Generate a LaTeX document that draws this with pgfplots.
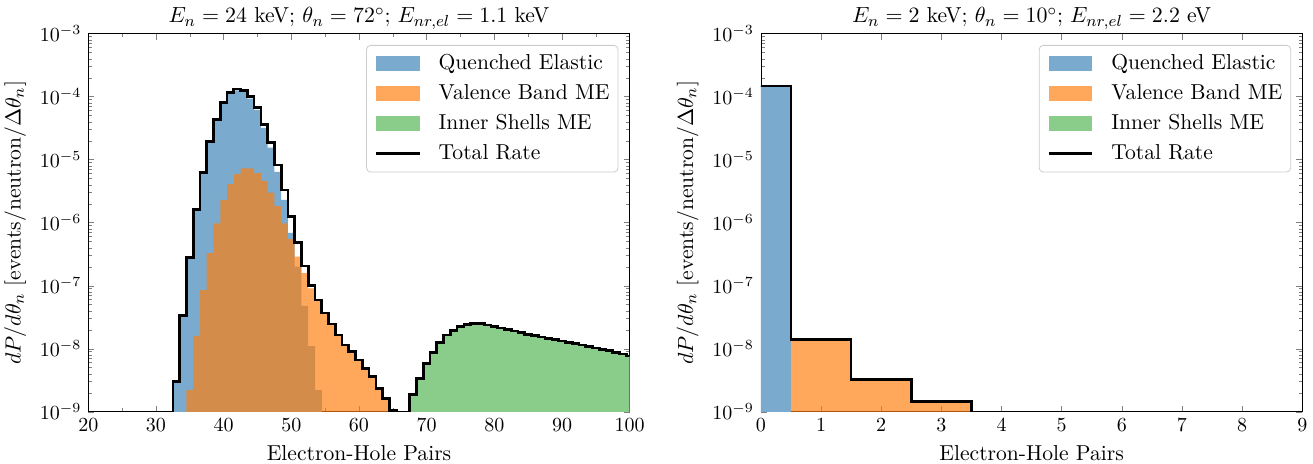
\documentclass[border=0pt]{standalone}
\usepackage{pgfplots}
\pgfplotsset{compat=1.18}

\definecolor{cblue}{RGB}{122,170,205}
\definecolor{corange}{RGB}{255,127,14}
\definecolor{cgreen}{RGB}{138,204,138}
\newcommand\lblfont{\fontsize{10.8}{13}\selectfont}

\pgfplotsset{
  /pgfplots/box legend/.style={/pgfplots/legend image code/.code={%
    \fill[##1, sharp corners] (0pt,-3.6pt) rectangle (21.7pt,3.6pt);}},
  /pgfplots/bar line legend/.style={/pgfplots/legend image code/.code={%
    \draw[##1, sharp corners] (0pt,0pt) -- (21.7pt,0pt);}},
}

\begin{document}
\begin{tikzpicture}
\begin{axis}[
  width=270.7pt, height=189pt, scale only axis,
  ymode=log, ymin=1e-9, ymax=1e-3,
  major tick length=3pt, minor tick length=1.8pt,
  xlabel={Electron-Hole Pairs},
  ylabel={$dP/d\theta_n$ [events/neutron/$\Delta\theta_n$]},
  label style={font=\lblfont},
  title style={font=\lblfont, yshift=-7.5pt},
  legend cell align=left,
  legend style={at={(1,1)}, anchor=north east, xshift=-5.6pt, yshift=-5.65pt,
    draw=black!20, rounded corners=2pt, font=\lblfont,
    inner xsep=4.2pt, inner ysep=4.25pt, row sep=5.2pt, column sep=8.8pt,
    nodes={inner sep=0pt, text height=7.6pt, text depth=2.2pt}},
  xmin=20, xmax=100,
  xtick={20,30,...,100}, minor xtick={25,35,...,95},
  title={$E_n = 24$ keV; $\theta_n = 72^\circ$; $E_{nr,el} = 1.1$ keV},
]
% quenched elastic
\addplot[draw=none, fill=cblue, const plot mark left, box legend] coordinates {
(32.5,1e-12) (32.5,3.0e-9) (33.5,3.4e-8) (34.5,2.78e-7) (35.5,1.58e-6)
(36.5,6.2e-6) (37.5,1.9e-5) (38.5,4.3e-5) (39.5,7.8e-5) (40.5,1.12e-4)
(41.5,1.26e-4) (42.5,1.18e-4) (43.5,9.3e-5) (44.5,6.2e-5) (45.5,3.2e-5)
(46.5,1.56e-5) (47.5,6.4e-6) (48.5,2.3e-6) (49.5,6.9e-7) (50.5,2.0e-7)
(51.5,4.8e-8) (52.5,1.1e-8) (53.5,2.2e-9) (54.5,1e-12)
};
\addlegendentry{Quenched Elastic}
% valence band
\addplot[draw=none, fill=corange, fill opacity=0.68, const plot mark left, box legend] coordinates {
(34.5,1e-12) (34.5,2.2e-9) (35.5,1.6e-8) (36.5,8.5e-8) (37.5,3.3e-7)
(38.5,9.8e-7) (39.5,2.3e-6) (40.5,4.1e-6) (41.5,5.9e-6) (42.5,7.3e-6)
(43.5,7.3e-6) (44.5,6.1e-6) (45.5,4.6e-6) (46.5,3.0e-6) (47.5,1.84e-6)
(48.5,9.8e-7) (49.5,5.5e-7) (50.5,2.9e-7) (51.5,1.58e-7) (52.5,9.1e-8)
(53.5,5.7e-8) (54.5,3.7e-8) (55.5,2.47e-8) (56.5,1.65e-8) (57.5,1.14e-8)
(58.5,9.0e-9) (59.5,6.6e-9) (60.5,4.9e-9) (61.5,3.6e-9) (62.5,2.35e-9)
(63.5,1.63e-9) (64.5,1.05e-9) (65.5,1e-12)
};
\addlegendentry{Valence Band ME}
% inner shells
\addplot[draw=none, fill=cgreen, const plot mark left, box legend] coordinates {
(67.5,1e-12) (67.5,1.89e-9) (68.5,3.39e-9) (69.5,5.86e-9) (70.5,8.75e-9)
(71.5,1.25e-8) (72.5,1.65e-8) (73.5,1.96e-8) (74.5,2.23e-8) (75.5,2.41e-8)
(76.5,2.5e-8) (77.5,2.5e-8) (78.5,2.38e-8) (79.5,2.26e-8) (80.5,2.14e-8)
(81.5,2.03e-8) (82.5,1.91e-8) (83.5,1.80e-8) (84.5,1.70e-8) (85.5,1.61e-8)
(86.5,1.53e-8) (87.5,1.46e-8) (88.5,1.39e-8) (89.5,1.33e-8) (90.5,1.26e-8)
(91.5,1.20e-8) (92.5,1.14e-8) (93.5,1.08e-8) (94.5,1.03e-8) (95.5,9.8e-9)
(96.5,9.25e-9) (97.5,8.75e-9) (98.5,8.24e-9) (99.5,7.66e-9) (100.5,1e-12)
};
\addlegendentry{Inner Shells ME}
% total
\addplot[black, line width=1.35pt, const plot mark left, bar line legend] coordinates {
(32.5,1e-12) (32.5,3.0e-9) (33.5,3.4e-8) (34.5,2.8e-7) (35.5,1.6e-6)
(36.5,6.3e-6) (37.5,1.93e-5) (38.5,4.4e-5) (39.5,8.0e-5) (40.5,1.16e-4)
(41.5,1.32e-4) (42.5,1.25e-4) (43.5,1.0e-4) (44.5,6.8e-5) (45.5,3.65e-5)
(46.5,1.86e-5) (47.5,8.2e-6) (48.5,3.3e-6) (49.5,1.24e-6) (50.5,4.8e-7)
(51.5,2.06e-7) (52.5,1.02e-7) (53.5,5.9e-8) (54.5,3.7e-8) (55.5,2.47e-8)
(56.5,1.65e-8) (57.5,1.14e-8) (58.5,9.0e-9) (59.5,6.6e-9) (60.5,4.9e-9)
(61.5,3.6e-9) (62.5,2.35e-9) (63.5,1.63e-9) (64.5,1.05e-9) (65.5,1e-12)
(67.5,1.89e-9) (68.5,3.39e-9) (69.5,5.86e-9) (70.5,8.75e-9) (71.5,1.25e-8)
(72.5,1.65e-8) (73.5,1.96e-8) (74.5,2.23e-8) (75.5,2.41e-8) (76.5,2.5e-8)
(77.5,2.5e-8) (78.5,2.38e-8) (79.5,2.26e-8) (80.5,2.14e-8) (81.5,2.03e-8)
(82.5,1.91e-8) (83.5,1.80e-8) (84.5,1.70e-8) (85.5,1.61e-8) (86.5,1.53e-8)
(87.5,1.46e-8) (88.5,1.39e-8) (89.5,1.33e-8) (90.5,1.26e-8) (91.5,1.20e-8)
(92.5,1.14e-8) (93.5,1.08e-8) (94.5,1.03e-8) (95.5,9.8e-9) (96.5,9.25e-9)
(97.5,8.75e-9) (98.5,8.24e-9) (99.5,7.66e-9) (100.5,7.66e-9)
};
\addlegendentry{Total Rate}
\end{axis}

\begin{axis}[at={(336.3pt,0pt)},
  width=270.7pt, height=189pt, scale only axis,
  ymode=log, ymin=1e-9, ymax=1e-3,
  major tick length=3pt, minor tick length=1.8pt,
  xlabel={Electron-Hole Pairs},
  ylabel={$dP/d\theta_n$ [events/neutron/$\Delta\theta_n$]},
  label style={font=\lblfont},
  title style={font=\lblfont, yshift=-7.5pt},
  legend cell align=left,
  legend style={at={(1,1)}, anchor=north east, xshift=-5.6pt, yshift=-5.65pt,
    draw=black!20, rounded corners=2pt, font=\lblfont,
    inner xsep=4.2pt, inner ysep=4.25pt, row sep=5.2pt, column sep=8.8pt,
    nodes={inner sep=0pt, text height=7.6pt, text depth=2.2pt}},
  xmin=0, xmax=9, xtick={0,1,...,9},
  title={$E_n = 2$ keV; $\theta_n = 10^\circ$; $E_{nr,el} = 2.2$ eV},
]
\addplot[draw=none, fill=cblue, const plot mark left, box legend] coordinates {
(-0.5,1e-12) (-0.5,1.48e-4) (0.5,1e-12)
};
\addlegendentry{Quenched Elastic}
\addplot[draw=none, fill=corange, fill opacity=0.68, const plot mark left, box legend] coordinates {
(0.5,1e-12) (0.5,1.41e-8) (1.5,3.27e-9) (2.5,1.44e-9) (3.5,1e-12)
};
\addlegendentry{Valence Band ME}
% no inner-shell contribution at this energy
\addplot[draw=none, fill=cgreen, box legend] coordinates {(5,1e-14) (6,1e-14)};
\addlegendentry{Inner Shells ME}
\addplot[black, line width=1.35pt, const plot mark left, bar line legend] coordinates {
(-0.5,1.48e-4) (0.5,1.41e-8) (1.5,3.27e-9) (2.5,1.44e-9) (3.5,1e-12) (9.5,1e-12)
};
\addlegendentry{Total Rate}
\end{axis}
\pgfresetboundingbox
\path (-44.15pt,-26.15pt) rectangle (612.35pt,205.85pt);
\end{tikzpicture}
\end{document}
